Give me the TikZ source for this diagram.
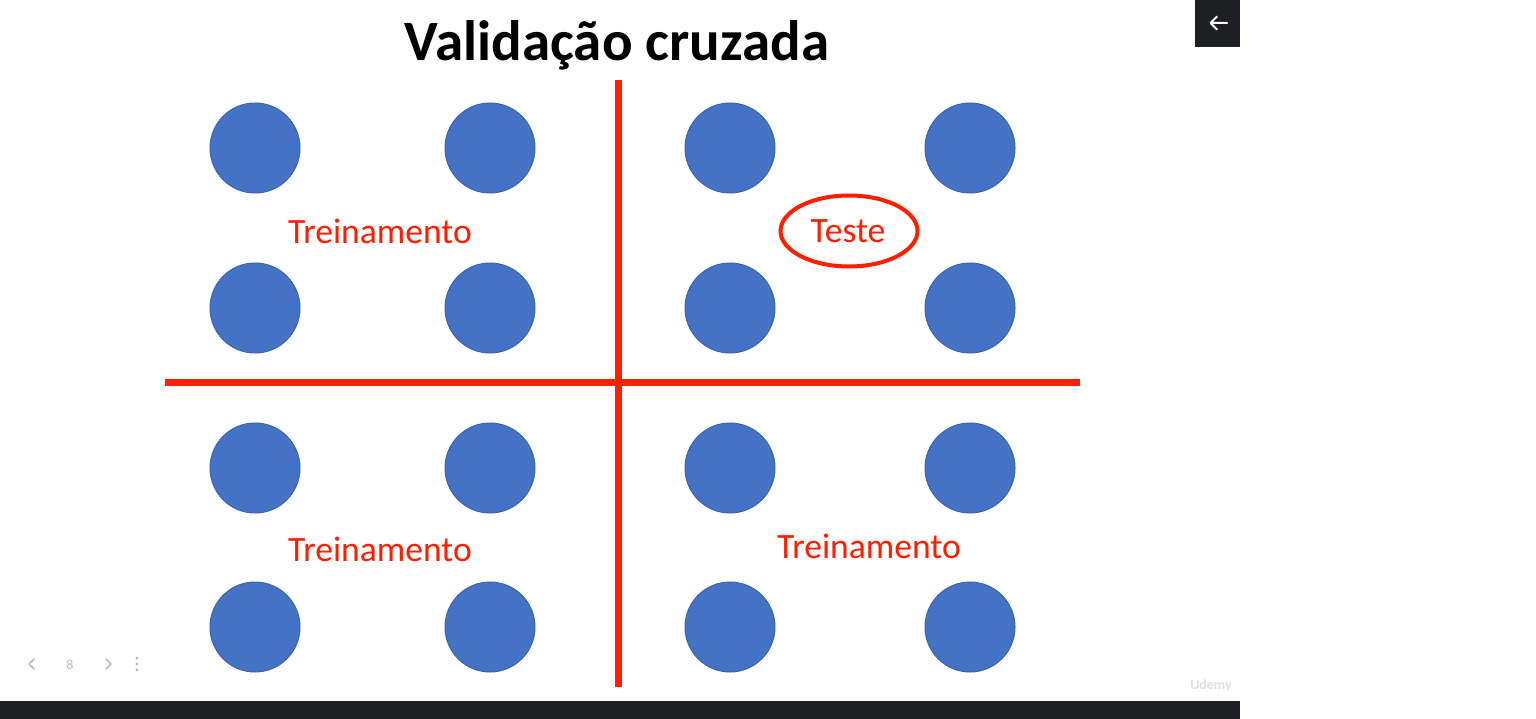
\documentclass[tikz,border=0pt]{standalone}
\usepackage{fontspec}
\setmainfont{Carlito}
\usetikzlibrary{shapes.geometric}
\definecolor{bolaazul}{HTML}{4472C4}
\definecolor{bordaazul}{HTML}{3B63AE}
\definecolor{vermelho}{HTML}{FF1E00}
\definecolor{barra}{HTML}{1E1F22}
\definecolor{cinzanav}{HTML}{BDBDBD}
\tikzset{
  bola/.style={circle,fill=bolaazul,draw=bordaazul,line width=1pt,minimum size=90pt,inner sep=0pt},
  rotulo/.style={text=vermelho,font=\fontsize{35.6}{40}\selectfont,inner sep=0pt},
  corte/.style={draw=vermelho,line width=7pt,line cap=butt}
}
\begin{document}
\begin{tikzpicture}[line cap=round,line join=round,x=1pt,y=-1pt]
\useasboundingbox (0,0) rectangle (1536,719);
\fill[white] (0,0) rectangle (1536,719);
%\draw[help lines] (0,0) grid (1536,719);
\node[font=\fontsize{57}{60}\selectfont\bfseries,inner sep=0pt] (titulo) at (617,45) {Validação cruzada};
% pontos
\foreach \x/\i in {255/1,490/2,730/3,970/4}
  \foreach \y/\j in {148/1,308/2,468/3,627/4}
    \node[bola] (b\i\j) at (\x,\y) {};
% cortes
\coordinate (vcima) at (618,80);
\coordinate (vbaixo) at (618,687);
\coordinate (hesq) at (165,382);
\coordinate (hdir) at (1080,382);
\draw[corte] (vcima) -- (vbaixo);
\draw[corte] (hesq) -- (hdir);
% rotulos
\node[rotulo] (trein1) at (380,231) {Treinamento};
\node[rotulo] (trein2) at (380,549) {Treinamento};
\node[rotulo] (trein3) at (869,546) {Treinamento};
\node[rotulo] (teste) at (848,231) {Teste};
\node[ellipse,draw=vermelho,line width=4pt,minimum width=137pt,minimum height=71pt] (anel) at (849,231) {};
% tela
\fill[barra] (1195,0) rectangle (1240,47);
\draw[white,line width=2pt] (1227,23) -- (1211,23) (1217,16.5) -- (1210.5,23) -- (1217,29.5);
\fill[barra] (0,701) rectangle (1240,719);
\begin{scriptsize}
\draw[cinzanav,line width=1.5pt] (34,659) -- (29,664) -- (34,669);
\draw[cinzanav,line width=1.5pt] (106,659) -- (111,664) -- (106,669);
\node[text=cinzanav,font=\fontsize{14}{16}\selectfont] (pagina) at (70,665) {8};
\foreach \y in {658,664,670} \fill[cinzanav] (137,\y) circle (1.6pt);
\node[text=black!12,font=\fontsize{14}{16}\selectfont\bfseries] (marca) at (1211,686) {Udemy};
\end{scriptsize}
\end{tikzpicture}
\end{document}
